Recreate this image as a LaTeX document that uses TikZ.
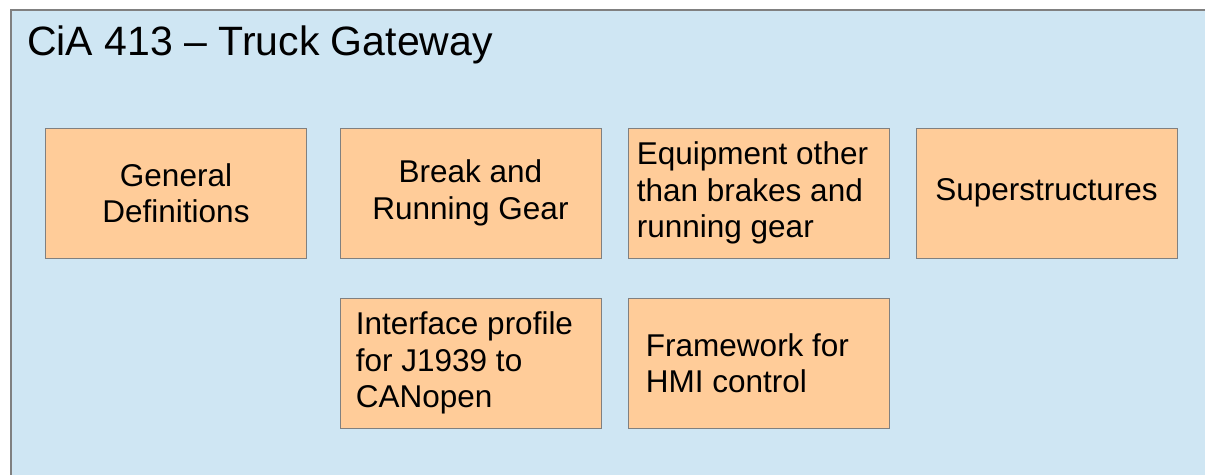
\documentclass[tikz,border=0pt]{standalone}
\usepackage{fontspec}
\setmainfont{Liberation Sans}
\definecolor{panelblue}{RGB}{207,230,243}
\definecolor{boxorange}{RGB}{255,204,153}
\definecolor{edgegrey}{RGB}{128,128,128}
\begin{document}
\begin{tikzpicture}[x=1pt,y=-1pt,
  panel/.style={draw=edgegrey, line width=1.2pt, fill=panelblue},
  part/.style={draw=edgegrey, line width=1pt, fill=boxorange, minimum width=261pt, minimum height=130pt,
    inner sep=0pt, align=center, font=\fontsize{31.5}{36.5}\selectfont, text=black},
  partl/.style={part, align=left},
  title/.style={anchor=base west, inner sep=0pt, font=\fontsize{41}{48}\selectfont}
]
\useasboundingbox (0,0) rectangle (1205,474);
\fill[white] (0,0) rectangle (1205,474);
\draw[panel] (11,10) rectangle (1215,490);
\node[title] (ttl) at (27,55) {CiA 413 – Truck Gateway};
\node[part]  (gen) at (176,193) {General\\Definitions};
\node[part]  (brk) at (470.5,193) {Break and\\Running Gear};
\node[partl] (eqp) at (758.5,193) {Equipment other\hspace*{12pt}\\than brakes and\\running gear};
\node[part]  (sup) at (1046.5,193) {Superstructures};
\node[partl] (ifp) at (470.5,363) {Interface profile\hspace*{12pt}\\for J1939 to\\CANopen};
\node[partl] (fhm) at (758.5,363) {Framework for\hspace*{22pt}\\HMI control};
\end{tikzpicture}
\end{document}
